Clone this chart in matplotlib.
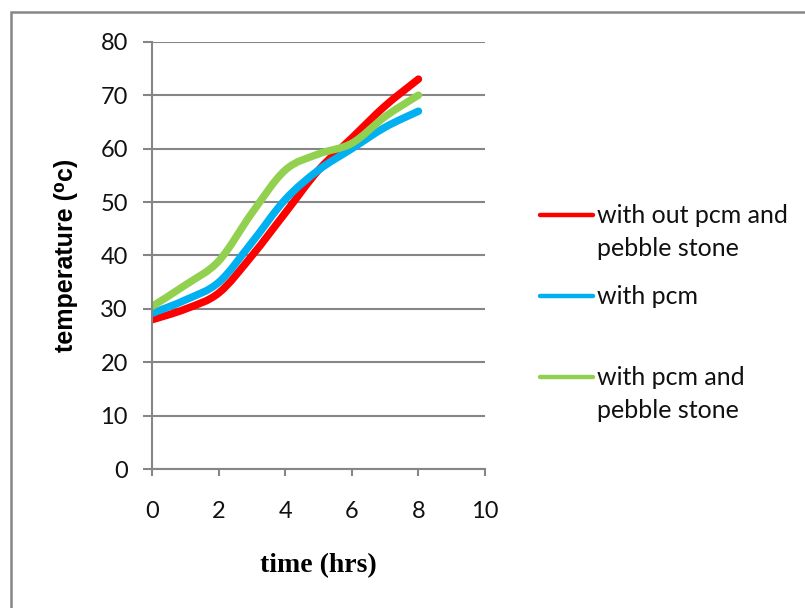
import numpy as np
import matplotlib
matplotlib.use("Agg")
import matplotlib.pyplot as plt
from matplotlib.path import Path
from matplotlib.patches import PathPatch, Rectangle
from matplotlib.lines import Line2D

# data (hourly readings)
hours = [0, 1, 2, 3, 4, 5, 6, 7, 8]
temp_no_pcm = [28, 30, 33, 40, 48, 56, 62, 68, 73]
temp_pcm = [29.2, 31.7, 35, 42.5, 50.5, 56, 60, 64, 67]
temp_pcm_pebble = [30.5, 34.5, 39, 48, 56, 59, 61, 66, 70]

series_names = ["with out pcm and\npebble stone", "with pcm", "with pcm and\npebble stone"]
series_colors = ["#FF0000", "#00B0F0", "#92D050"]

x_ticks = [0, 2, 4, 6, 8, 10]
y_ticks = [0, 10, 20, 30, 40, 50, 60, 70, 80]

GRID = "#868686"
W, H = 805, 608


def smooth_path(xs, ys):
    # excel style smoothed line: cubic bezier through every point
    p = np.column_stack([xs, ys]).astype(float)
    verts = [p[0]]
    codes = [Path.MOVETO]
    n = len(p)
    for i in range(n - 1):
        p0 = p[i - 1] if i > 0 else p[i]
        p3 = p[i + 2] if i + 2 < n else p[i + 1]
        c1 = p[i] + (p[i + 1] - p0) / 6.0
        c2 = p[i + 1] - (p3 - p[i]) / 6.0
        verts += [c1, c2, p[i + 1]]
        codes += [Path.CURVE4] * 3
    return Path(verts, codes)


fig = plt.figure(figsize=(W / 100, H / 100), dpi=100)
ax = fig.add_axes([152.3 / W, 1 - 469.3 / H, (485 - 152.3) / W, (469.3 - 41.7) / H])

ax.set_xlim(0, 10)
ax.set_ylim(0, 80)
ax.set_xticks(x_ticks)
ax.set_yticks(y_ticks)
ax.grid(axis="y", color=GRID, lw=1.5)
ax.set_axisbelow(True)
for s in ["top", "right"]:
    ax.spines[s].set_visible(False)
for s in ["left", "bottom"]:
    ax.spines[s].set_color(GRID)
    ax.spines[s].set_linewidth(1.5)
ax.tick_params(axis="y", length=6.5, width=1.5, color=GRID, pad=11, labelsize=17)
ax.tick_params(axis="x", length=5, width=1.5, color=GRID, pad=18, labelsize=17)
for lab in ax.get_xticklabels() + ax.get_yticklabels():
    lab.set_family("Lato")
    lab.set_color("#111111")

for ys, c in zip([temp_no_pcm, temp_pcm, temp_pcm_pebble], series_colors):
    patch = PathPatch(smooth_path(hours, ys), fill=False, edgecolor=c, lw=5.4,
                      capstyle="round", joinstyle="round")
    ax.add_patch(patch)

ax.set_ylabel("temperature (\u2070c)", family=["Liberation Sans", "DejaVu Sans"],
              fontweight="bold", fontsize=18, labelpad=16)
ax.set_xlabel("time (hrs)", family="Liberation Serif", fontweight="bold",
              fontsize=20, labelpad=22)

# legend drawn by hand, handle sits on the first text line like excel
leg_y = [215, 296, 377]
for name, c, yy in zip(series_names, series_colors, leg_y):
    fy = 1 - yy / H
    fig.add_artist(Line2D([540 / W, 593 / W], [fy, fy], color=c, lw=3.2,
                          solid_capstyle="round", transform=fig.transFigure))
    fig.text(597 / W, 1 - (yy - 11) / H, name, family="Lato", fontsize=18,
             va="top", ha="left", color="#111111", linespacing=1.5)

# chart area border
fig.add_artist(Rectangle((11.3 / W, -0.2), 1.5, 1.2 - 12.3 / H, fill=False,
                         edgecolor=GRID, lw=1.8, transform=fig.transFigure, clip_on=False))

fig.savefig("out.png", dpi=100)
